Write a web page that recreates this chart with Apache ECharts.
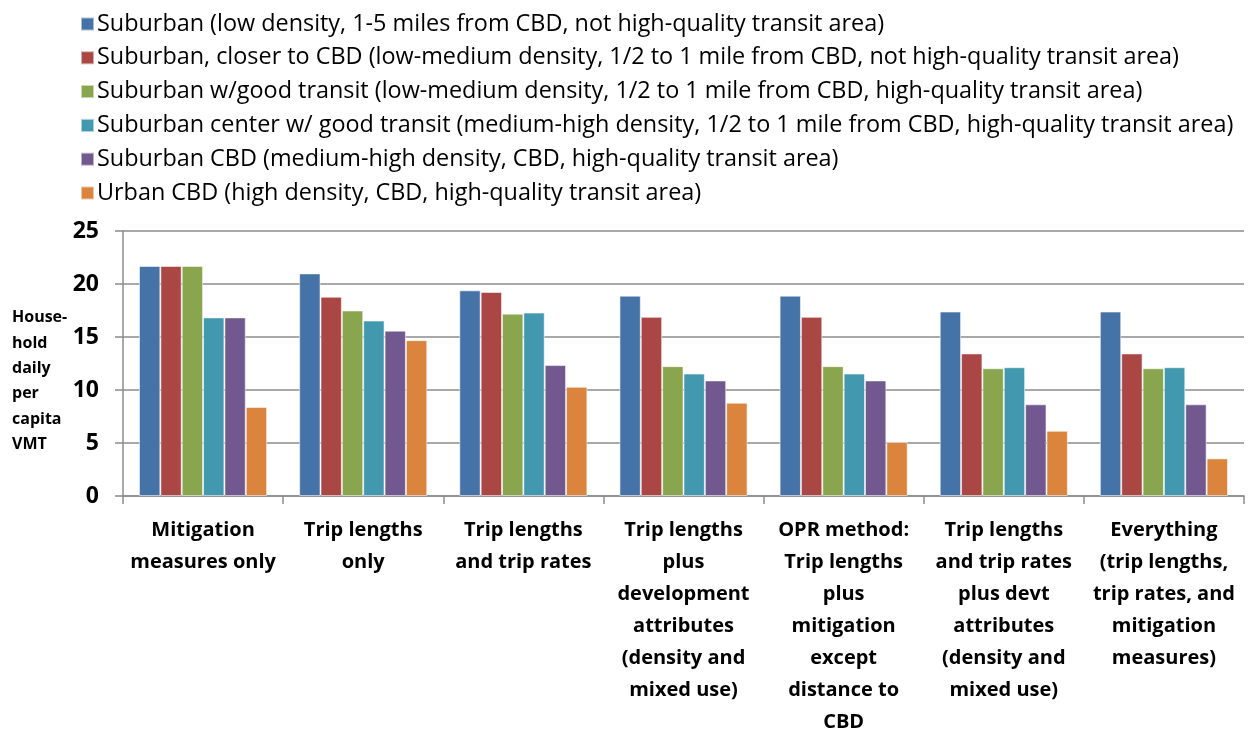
<!DOCTYPE html>
<html><head><meta charset="utf-8">
<script src="https://cdn.jsdelivr.net/npm/echarts@6/dist/echarts.min.js"></script>
<style>html,body{margin:0;padding:0;background:#fff}#c{width:1249px;height:732px}</style>
</head><body><div id="c"></div>
<script>
const categories = [
  "Mitigation\nmeasures only",
  "Trip lengths\nonly",
  "Trip lengths\nand trip rates",
  "Trip lengths\nplus\ndevelopment\nattributes\n(density and\nmixed use)",
  "OPR method:\nTrip lengths\nplus\nmitigation\nexcept\ndistance to\nCBD",
  "Trip lengths\nand trip rates\nplus devt\nattributes\n(density and\nmixed use)",
  "Everything\n(trip lengths,\ntrip rates, and\nmitigation\nmeasures)"
];
const seriesNames = [
  "Suburban (low density, 1-5 miles from CBD, not high-quality transit area)",
  "Suburban, closer to CBD (low-medium density, 1/2 to 1 mile from CBD, not high-quality transit area)",
  "Suburban w/good transit (low-medium density, 1/2 to 1 mile from CBD, high-quality transit area)",
  "Suburban center w/ good transit (medium-high density, 1/2 to 1 mile from CBD, high-quality transit area)",
  "Suburban CBD (medium-high density, CBD, high-quality transit area)",
  "Urban CBD (high density, CBD, high-quality transit area)"
];
const suburban        = [21.7, 21.0, 19.4, 18.9, 18.9, 17.4, 17.4];
const suburbanCloser  = [21.7, 18.8, 19.25, 16.9, 16.9, 13.45, 13.45];
const suburbanTransit = [21.7, 17.5, 17.2, 12.25, 12.25, 12.05, 12.05];
const suburbanCenter  = [16.85, 16.55, 17.3, 11.55, 11.55, 12.15, 12.15];
const suburbanCBD     = [16.85, 15.6, 12.35, 10.9, 10.9, 8.65, 8.65];
const urbanCBD        = [8.4, 14.7, 10.3, 8.8, 5.1, 6.15, 3.55];
const yTicks = [0, 5, 10, 15, 20, 25];
const yTitle = "House-\nhold\ndaily\nper\ncapita\nVMT";

const colors = ["#4572A7", "#AA4643", "#89A54E", "#4198AF", "#71588F", "#DB843D"];
const values = [suburban, suburbanCloser, suburbanTransit, suburbanCenter, suburbanCBD, urbanCBD];
const font = "Open Sans";

const chart = echarts.init(document.getElementById('c'));
chart.setOption({
  animation: false,
  color: colors,
  textStyle: { fontFamily: font, color: '#000' },
  legend: {
    orient: 'vertical', left: 75, top: 7.5,
    itemWidth: 13, itemHeight: 13, itemGap: 10.8, icon: 'rect',
    textStyle: { fontFamily: font, fontSize: 23.4, lineHeight: 23, color: '#000', padding: [0, 0, 0, -2] },
    data: seriesNames
  },
  grid: { left: 123, right: 5, top: 231, bottom: 236, containLabel: false, outerBoundsMode: 'none' },
  graphic: [{
    type: 'text', left: 12, top: 305,
    style: { text: yTitle, fontFamily: font, fontWeight: 'bold', fontSize: 16, lineHeight: 25.4, fill: '#000', align: 'center' }
  }],
  xAxis: {
    type: 'category', data: categories,
    axisLine: { lineStyle: { color: '#8c8c8c', width: 1.5 } },
    axisTick: { show: true, length: 8, lineStyle: { color: '#8c8c8c', width: 1.5 } },
    axisLabel: { interval: 0, fontFamily: font, fontWeight: 'bold', fontSize: 20, lineHeight: 32, color: '#000', margin: 18 }
  },
  yAxis: {
    type: 'value', min: yTicks[0], max: yTicks[yTicks.length - 1], interval: 5,
    axisLine: { show: true, lineStyle: { color: '#8c8c8c', width: 1.5 } },
    axisTick: { show: true, length: 8, lineStyle: { color: '#8c8c8c', width: 1.5 } },
    splitLine: { show: true, lineStyle: { color: '#8c8c8c', width: 1.5 } },
    axisLabel: { fontFamily: font, fontWeight: 'bold', fontSize: 23, color: '#000', margin: 24 }
  },
  series: seriesNames.map((n, i) => ({
    name: n, type: 'bar', data: values[i],
    barGap: '0%', barCategoryGap: '20%',
    itemStyle: { color: colors[i], borderColor: 'rgba(255,255,255,0.55)', borderWidth: 1 }
  }))
});
</script></body></html>
